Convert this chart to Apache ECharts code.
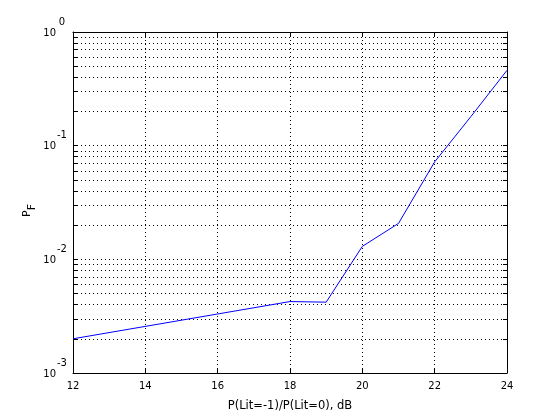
<!DOCTYPE html>
<html>
<head>
<meta charset="utf-8">
<script src="https://cdn.jsdelivr.net/npm/echarts@6/dist/echarts.min.js"></script>
<style>
html,body{margin:0;padding:0;background:#fff;}
#c{width:560px;height:420px;}
</style>
</head>
<body>
<div id="c"></div>
<script>
// Data
const xValues = [12, 18, 19, 20, 21, 22, 23, 24];
const pfValues = [0.0020, 0.00425, 0.0042, 0.0130, 0.0207, 0.072, 0.18, 0.46];

// Axis ticks
const xTickMin = 12, xTickMax = 24, xTickStep = 2;
const yMajorTicks = [0.001, 0.01, 0.1, 1];
const yAllTicks = [
  0.001, 0.002, 0.003, 0.004, 0.005, 0.006, 0.007, 0.008, 0.009,
  0.01, 0.02, 0.03, 0.04, 0.05, 0.06, 0.07, 0.08, 0.09,
  0.1, 0.2, 0.3, 0.4, 0.5, 0.6, 0.7, 0.8, 0.9, 1
];
const xTitle = 'P(Lit=-1)/P(Lit=0), dB';
const yTitleMain = 'P', yTitleSub = 'F';

const FONT = 'DejaVu Sans';
const dotted = { color: '#000', width: 1, type: [1, 3] };

const chart = echarts.init(document.getElementById('c'), null, { renderer: 'canvas' });
chart.setOption({
  animation: false,
  backgroundColor: '#fff',
  grid: { left: 73, right: 53, top: 32, bottom: 47, containLabel: false },
  xAxis: [
    {
      type: 'value', min: xTickMin, max: xTickMax, interval: xTickStep, position: 'bottom',
      axisLine: { show: true, lineStyle: { color: '#000', width: 1 } },
      axisTick: { show: true, inside: true, length: 5, lineStyle: { color: '#000' } },
      axisLabel: { show: true, margin: 8, color: '#000', fontFamily: FONT, fontSize: 10 },
      splitLine: { show: true, lineStyle: dotted },
      name: xTitle, nameLocation: 'middle', nameGap: 27, nameMoveOverlap: false,
      nameTextStyle: { color: '#000', fontFamily: FONT, fontSize: 11.5 }
    },
    {
      type: 'value', min: xTickMin, max: xTickMax, interval: xTickStep, position: 'top',
      axisLine: { show: true, lineStyle: { color: '#000', width: 1 } },
      axisTick: { show: true, inside: true, length: 5, lineStyle: { color: '#000' } },
      axisLabel: { show: false },
      splitLine: { show: false }
    }
  ],
  yAxis: [
    {
      type: 'log', logBase: 10, min: 0.001, max: 1, position: 'left',
      axisLine: { show: true, lineStyle: { color: '#000', width: 1 } },
      axisTick: { show: true, inside: true, length: 4, customValues: yAllTicks, lineStyle: { color: '#000' } },
      minorTick: { show: false },
      axisLabel: {
        show: true, margin: 5, color: '#000', customValues: yMajorTicks,
        formatter: function (v) {
          const e = Math.round(Math.log10(v));
          return '{b|10}{e|' + String(e) + '}';
        },
        rich: {
          b: { fontFamily: FONT, fontSize: 10, color: '#000', padding: [2, 0, 0, 0] },
          e: { fontFamily: FONT, fontSize: 10, color: '#000', width: 12, align: 'left', padding: [0, 0, 20, 0] }
        }
      },
      splitLine: { show: true, lineStyle: dotted },
      name: '{p|' + yTitleMain + '}{s|' + yTitleSub + '}',
      nameLocation: 'middle', nameRotate: 90, nameGap: 35, nameMoveOverlap: false,
      nameTextStyle: {
        padding: [0, 16, 0, 0],
        rich: {
          p: { fontFamily: FONT, fontSize: 11, color: '#000' },
          s: { fontFamily: FONT, fontSize: 11, color: '#000', padding: [10, 0, 0, 0] }
        }
      }
    },
    {
      type: 'log', logBase: 10, min: 0.001, max: 1, position: 'right',
      axisLine: { show: true, lineStyle: { color: '#000', width: 1 } },
      axisTick: { show: true, inside: true, length: 4, customValues: yAllTicks, lineStyle: { color: '#000' } },
      axisLabel: { show: false },
      splitLine: { show: false }
    }
  ],
  series: [
    {
      type: 'line',
      xAxisIndex: 0, yAxisIndex: 0,
      data: xValues.map((x, i) => [x, pfValues[i]]),
      showSymbol: false, symbol: 'none',
      lineStyle: { color: '#0000ff', width: 1 },
      itemStyle: { color: '#0000ff' },
      silent: true
    }
  ]
});
</script>
</body>
</html>
